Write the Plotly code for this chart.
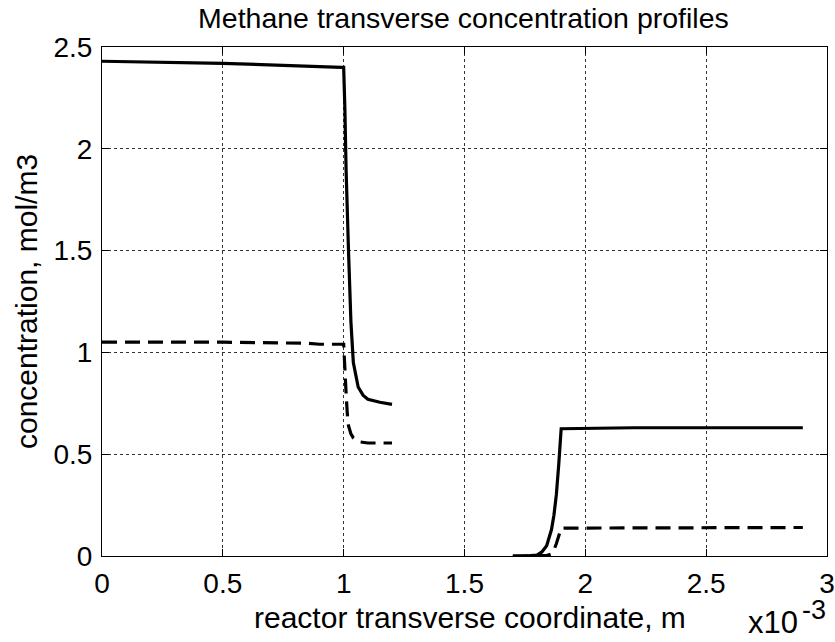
import plotly.graph_objects as go

# x values in units of 1e-3 m
x_solid1 = [0, 0.5, 0.99, 1.0, 1.005, 1.01, 1.02, 1.03, 1.04, 1.05, 1.06, 1.08, 1.1, 1.15, 1.2]
y_solid1 = [2.43, 2.42, 2.40, 2.40, 2.2, 1.9, 1.5, 1.15, 0.95, 0.88, 0.83, 0.79, 0.77, 0.755, 0.745]

x_dash1 = [0, 0.5, 0.85, 0.9, 1.0, 1.005, 1.01, 1.015, 1.02, 1.03, 1.04, 1.05, 1.07, 1.1, 1.2]
y_dash1 = [1.05, 1.05, 1.045, 1.04, 1.04, 0.95, 0.8, 0.7, 0.64, 0.6, 0.58, 0.57, 0.56, 0.555, 0.555]

x_solid2 = [1.7, 1.75, 1.8, 1.82, 1.84, 1.86, 1.87, 1.88, 1.89, 1.9, 2.2, 2.9]
y_solid2 = [0, 0.0, 0.005, 0.02, 0.05, 0.13, 0.2, 0.3, 0.45, 0.625, 0.63, 0.63]

x_dash2 = [1.7, 1.8, 1.84, 1.86, 1.87, 1.88, 1.89, 1.9, 2.9]
y_dash2 = [0, 0, 0.002, 0.01, 0.03, 0.06, 0.1, 0.137, 0.14]

x_ticks = [0, 0.5, 1, 1.5, 2, 2.5, 3]
x_ticklabels = ["0", "0.5", "1", "1.5", "2", "2.5", "3"]
y_ticks = [0, 0.5, 1, 1.5, 2, 2.5]
y_ticklabels = ["0", "0.5", "1", "1.5", "2", "2.5"]

scale = 1e-3
FONT = "Liberation Sans, Arial, sans-serif"

# plot area in pixels (for placing texts outside it)
L, R, T, B = 102, 827, 47, 556
def px(xp):
    return (xp - L) / (R - L)
def py(yp):
    return (B - yp) / (B - T)

fig = go.Figure()
for xs, ys, dash in [(x_solid1, y_solid1, "solid"), (x_dash1, y_dash1, "15px,8px"),
                     (x_solid2, y_solid2, "solid"), (x_dash2, y_dash2, "15px,8px")]:
    fig.add_trace(go.Scatter(x=[v * scale for v in xs], y=ys, mode="lines",
                             line=dict(color="black", width=3.2, dash=dash),
                             showlegend=False, hoverinfo="skip"))

axis_common = dict(showline=True, linecolor="black", linewidth=1, mirror="ticks",
                   ticks="inside", ticklen=7, tickcolor="black", showgrid=True,
                   gridcolor="#333", griddash="dot", gridwidth=1, zeroline=False,
                   automargin=False,
                   tickfont=dict(family=FONT, size=28, color="black"))

fig.update_xaxes(range=[0, 3 * scale], tickvals=[v * scale for v in x_ticks], ticktext=x_ticklabels,
                 ticklabelstandoff=2, **axis_common)
fig.update_yaxes(range=[0, 2.5], tickvals=y_ticks, ticktext=y_ticklabels,
                 title=dict(text="concentration, mol/m3", font=dict(family=FONT, size=30, color="black"), standoff=6),
                 ticklabelstandoff=3, **axis_common)

fig.add_annotation(text="reactor transverse coordinate, m", xref="paper", yref="paper",
                   x=px(470.5), y=py(617), xanchor="center", yanchor="middle", showarrow=False,
                   font=dict(family=FONT, size=30, color="black"))
fig.add_annotation(text="x10", xref="paper", yref="paper", x=px(800), y=py(622),
                   xanchor="right", yanchor="middle", showarrow=False,
                   font=dict(family=FONT, size=31, color="black"))
fig.add_annotation(text="-3", xref="paper", yref="paper", x=px(800), y=py(610),
                   xanchor="left", yanchor="middle", showarrow=False,
                   font=dict(family=FONT, size=27, color="black"))

fig.update_layout(width=835, height=642, margin=dict(l=102, r=8, t=47, b=86),
                  paper_bgcolor="white", plot_bgcolor="white",
                  title=dict(text="Methane transverse concentration profiles", x=0.555, xanchor="center",
                             y=0.972, yanchor="middle", font=dict(family=FONT, size=28.5, color="black")))

fig.write_html("out.html")
